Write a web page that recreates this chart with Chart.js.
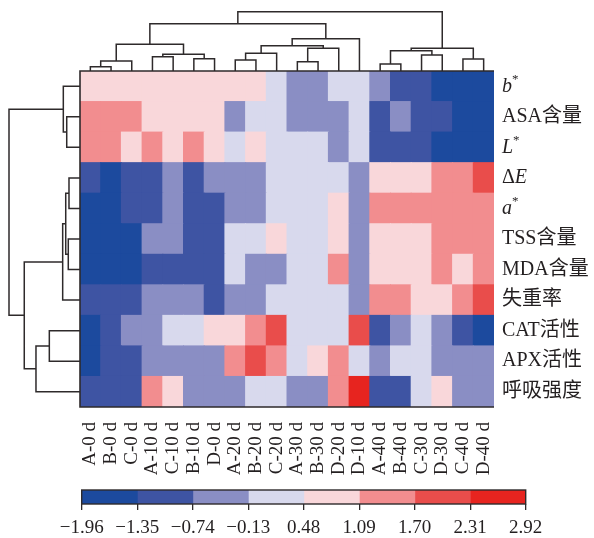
<!DOCTYPE html>
<html>
<head>
<meta charset="utf-8">
<script src="https://cdn.jsdelivr.net/npm/chart.js@4.4.0/dist/chart.umd.min.js"></script>
<style>
  body { margin: 0; background: #fff; }
  #wrap { position: relative; width: 594px; height: 538px; }
  canvas { position: absolute; left: 0; }
</style>
</head>
<body>
<div id="wrap">
  <canvas id="heat" width="594" height="480" style="top:0"></canvas>
  <canvas id="scale" width="594" height="58" style="top:480px"></canvas>
</div>
<script>
// column order as in the clustered heatmap
const columns = ['A-0 d', 'B-0 d', 'C-0 d', 'A-10 d', 'C-10 d', 'B-10 d', 'D-0 d', 'A-20 d', 'B-20 d', 'C-20 d',
  'A-30 d', 'B-30 d', 'D-20 d', 'D-10 d', 'A-40 d', 'B-40 d', 'C-30 d', 'D-30 d', 'C-40 d', 'D-40 d'];
const rowNames = ['b*', 'ASA含量', 'L*', 'ΔE', 'a*', 'TSS含量', 'MDA含量', '失重率', 'CAT活性', 'APX活性', '呼吸强度'];

// standardised values
const bStar = [0.79, 0.79, 0.79, 0.79, 0.79, 0.79, 0.79, 0.79, 0.79, 0.18, -0.44, -0.44, 0.18, 0.18, -0.44, -1.05, -1.05, -1.66, -1.66, -1.66];
const asa = [1.40, 1.40, 1.40, 0.79, 0.79, 0.79, 0.79, -0.44, 0.18, 0.18, -0.44, -0.44, -0.44, 0.18, -1.05, -0.44, -1.05, -1.05, -1.66, -1.66];
const lStar = [1.40, 1.40, 0.79, 1.40, 0.79, 1.40, 0.79, 0.18, 0.79, 0.18, 0.18, 0.18, -0.44, 0.18, -1.05, -1.05, -1.05, -1.66, -1.66, -1.66];
const deltaE = [-1.05, -1.66, -1.05, -1.05, -0.44, -1.05, -0.44, -0.44, -0.44, 0.18, 0.18, 0.18, 0.18, -0.44, 0.79, 0.79, 0.79, 1.40, 1.40, 2.01];
const aStar = [-1.66, -1.66, -1.05, -1.05, -0.44, -1.05, -1.05, -0.44, -0.44, 0.18, 0.18, 0.18, 0.79, -0.44, 1.40, 1.40, 1.40, 1.40, 1.40, 1.40];
const tss = [-1.66, -1.66, -1.66, -0.44, -0.44, -1.05, -1.05, 0.18, 0.18, 0.79, 0.18, 0.18, 0.79, -0.44, 0.79, 0.79, 0.79, 1.40, 1.40, 1.40];
const mda = [-1.66, -1.66, -1.66, -1.05, -1.05, -1.05, -1.05, 0.18, -0.44, -0.44, 0.18, 0.18, 1.40, -0.44, 0.79, 0.79, 0.79, 1.40, 0.79, 1.40];
const weightLoss = [-1.05, -1.05, -1.05, -0.44, -0.44, -0.44, -1.05, -0.44, -0.44, 0.18, 0.18, 0.18, 0.18, -0.44, 1.40, 1.40, 0.79, 0.79, 1.40, 2.01];
const cat = [-1.66, -1.05, -0.44, -0.44, 0.18, 0.18, 0.79, 0.79, 1.40, 2.01, 0.18, 0.18, 0.18, 2.01, -1.05, -0.44, 0.18, -0.44, -1.05, -1.66];
const apx = [-1.66, -1.05, -1.05, -0.44, -0.44, -0.44, -0.44, 1.40, 2.01, 1.40, 0.18, 0.79, 1.40, 0.18, -0.44, 0.18, 0.18, -0.44, -0.44, -0.44];
const respiration = [-1.05, -1.05, -1.05, 1.40, 0.79, -0.44, -0.44, -0.44, 0.18, 0.18, -0.44, -0.44, 1.40, 2.62, -1.05, -1.05, 0.18, 0.79, -0.44, -0.44];
const rowValues = [bStar, asa, lStar, deltaE, aStar, tss, mda, weightLoss, cat, apx, respiration];

// colour key
const breaks = [-1.96, -1.35, -0.74, -0.13, 0.48, 1.09, 1.70, 2.31, 2.92];
const binColors = ['#1c4a9e', '#3e54a3', '#8a8ec4', '#d8d9ed', '#f9d7da', '#f28d8f', '#e94d4b', '#e7241f'];

// dendrograms, linkage style: [childA, childB, height]
const colMerges = [
  [0, 1, 0.73], [20, 2, 1.69], [3, 4, 2.41], [5, 6, 2.07], [22, 23, 2.82], [21, 24, 4.50],
  [7, 8, 1.85], [26, 9, 2.98], [10, 11, 1.57], [28, 12, 3.83], [27, 29, 4.27], [30, 13, 5.45],
  [25, 31, 7.98], [14, 15, 1.18], [16, 17, 2.70], [18, 19, 2.02], [33, 34, 3.42], [36, 35, 3.83],
  [32, 37, 10.0]
];
const rowMerges = [
  [1, 2, 1.87], [0, 11, 2.35], [3, 4, 1.55], [5, 6, 1.65], [13, 14, 2.01], [15, 7, 2.44],
  [8, 9, 4.32], [17, 10, 6.20], [16, 18, 7.85], [12, 19, 10.0]
];

const serif = '"Liberation Serif", "Times New Roman", "Noto Sans CJK SC", serif';
const ink = '#231f20';

function colorFor(v) {
  for (let i = 0; i < binColors.length; i++) {
    if (v <= breaks[i + 1]) return binColors[i];
  }
  return binColors[binColors.length - 1];
}

function drawTree(ctx, merges, leafPos, toPix, vertical) {
  const pos = leafPos.slice();
  const hgt = leafPos.map(() => 0);
  ctx.beginPath();
  merges.forEach(([a, b, h]) => {
    const pa = pos[a], pb = pos[b];
    if (vertical) {
      ctx.moveTo(pa, toPix(hgt[a])); ctx.lineTo(pa, toPix(h));
      ctx.lineTo(pb, toPix(h)); ctx.lineTo(pb, toPix(hgt[b]));
    } else {
      ctx.moveTo(toPix(hgt[a]), pa); ctx.lineTo(toPix(h), pa);
      ctx.lineTo(toPix(h), pb); ctx.lineTo(toPix(hgt[b]), pb);
    }
    pos.push((pa + pb) / 2);
    hgt.push(h);
  });
  ctx.stroke();
}

function drawRowLabel(ctx, name, x, y) {
  let parts;
  let m = name.match(/^([A-Za-z])\*$/);
  if (m) parts = [[m[1], 'i'], ['*', 's']];
  else if (name[0] === 'Δ') parts = [['Δ', 'n'], [name.slice(1), 'i']];
  else parts = [[name, 'n']];
  ctx.textBaseline = 'middle';
  ctx.textAlign = 'left';
  parts.forEach(([t, k]) => {
    ctx.font = k === 'i' ? 'italic 20px ' + serif : k === 's' ? '13px ' + serif : '20px ' + serif;
    ctx.fillText(t, x, k === 's' ? y - 7 : y);
    x += ctx.measureText(t).width;
  });
}

const heatExtras = {
  id: 'heatExtras',
  afterDraw(chart) {
    const { ctx, chartArea: a, scales } = chart;
    ctx.save();
    ctx.strokeStyle = '#2e2a2b';
    ctx.lineWidth = 1.5;
    // column dendrogram
    const colLeaves = columns.map((c, i) => scales.x.getPixelForValue(i));
    drawTree(ctx, colMerges, colLeaves, h => a.top - h * 5.93, true);
    // row dendrogram
    const rowLeaves = rowNames.map((r, i) => scales.y.getPixelForValue(rowNames.length - i - 0.5));
    drawTree(ctx, rowMerges, rowLeaves, h => a.left - h * 7.1, false);
    // frame
    ctx.lineWidth = 1.6;
    ctx.beginPath();
    ctx.moveTo(a.right, a.top); ctx.lineTo(a.left, a.top);
    ctx.lineTo(a.left, a.bottom); ctx.lineTo(a.right, a.bottom);
    ctx.stroke();
    // row labels
    ctx.fillStyle = ink;
    rowNames.forEach((name, i) => drawRowLabel(ctx, name, a.right + 8, rowLeaves[i]));
    ctx.restore();
  }
};

new Chart(document.getElementById('heat'), {
  type: 'bar',
  data: {
    labels: columns,
    datasets: rowNames.map((name, r) => ({
      label: name,
      data: columns.map(() => 1),
      backgroundColor: rowValues[r].map(colorFor),
      borderWidth: 0,
      barPercentage: 1,
      categoryPercentage: 1,
      inflateAmount: 0.5
    })).reverse()
  },
  options: {
    responsive: false,
    devicePixelRatio: 1,
    animation: false,
    layout: { padding: { left: 80, top: 71, right: 100, bottom: 0 } },
    plugins: { legend: { display: false }, tooltip: { enabled: false } },
    scales: {
      x: {
        stacked: true,
        grid: { display: false },
        border: { display: false },
        ticks: { autoSkip: false, minRotation: 90, maxRotation: 90, padding: 7, color: ink, font: { family: serif, size: 19 } },
        afterFit: s => { s.height = 73; }
      },
      y: { stacked: true, min: 0, max: 11, display: false }
    }
  },
  plugins: [heatExtras]
});

const scaleFrame = {
  id: 'scaleFrame',
  afterDraw(chart) {
    const { ctx, chartArea: a } = chart;
    ctx.save();
    ctx.strokeStyle = '#2e2a2b';
    ctx.lineWidth = 1.4;
    ctx.strokeRect(a.left, a.top, a.right - a.left, a.bottom - a.top);
    ctx.restore();
  }
};

new Chart(document.getElementById('scale'), {
  type: 'bar',
  data: {
    labels: ['key'],
    datasets: binColors.map((c, i) => ({
      data: [[breaks[i], breaks[i + 1]]],
      backgroundColor: c,
      borderWidth: 0,
      grouped: false,
      barPercentage: 1,
      categoryPercentage: 1,
      inflateAmount: 0.5
    }))
  },
  options: {
    indexAxis: 'y',
    responsive: false,
    devicePixelRatio: 1,
    animation: false,
    layout: { padding: { left: 81.7, right: 68.3, top: 10, bottom: 0 } },
    plugins: { legend: { display: false }, tooltip: { enabled: false } },
    scales: {
      x: {
        type: 'linear',
        min: breaks[0],
        max: breaks[breaks.length - 1],
        afterBuildTicks: s => { s.ticks = breaks.map(v => ({ value: v })); },
        grid: { drawOnChartArea: false, tickLength: 6, color: '#2e2a2b', lineWidth: 1.3 },
        border: { display: false },
        ticks: {
          autoSkip: false, maxRotation: 0, padding: 7, color: ink,
          font: { family: serif, size: 19 },
          callback: v => v.toFixed(2).replace('-', '\u2212')
        },
        afterFit: s => { s.height = 34; }
      },
      y: { display: false }
    }
  },
  plugins: [scaleFrame]
});
</script>
</body>
</html>
